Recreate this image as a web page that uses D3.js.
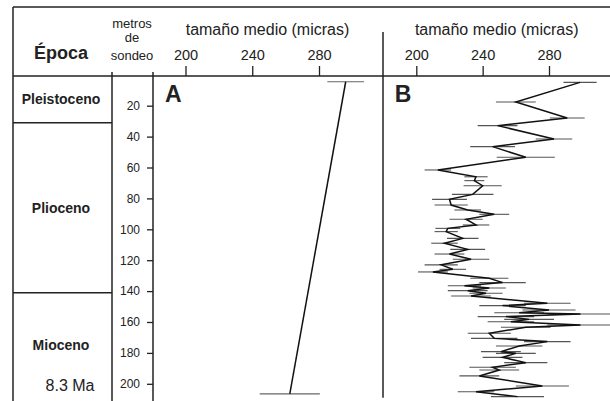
<!DOCTYPE html>
<html>
<head>
<meta charset="utf-8">
<script src="https://cdn.jsdelivr.net/npm/d3@7"></script>
<style>
  body { margin: 0; background: #fff; }
  svg { font-family: "Liberation Sans", Arial, sans-serif; }
</style>
</head>
<body>
<svg id="chart"></svg>
<script>
// epochs: name, top depth, bottom depth (m)
const epochNames = ["Pleistoceno", "Plioceno", "Mioceno"];
const epochTop = [0, 31, 141];
const epochBottom = [31, 141, 209];
const ageLabel = "8.3 Ma";

const depthTicks = [20, 40, 60, 80, 100, 120, 140, 160, 180, 200];
const sizeTicks = [200, 240, 280];

// panel A: two samples
const depthA = [4.5, 206.5];
const sizeA = [296, 262.5];
const errA = [11, 18];

// panel B: detailed record
const depthB = [4.9, 17.6, 28, 32.9, 41.6, 46.5, 53.4, 61.6, 66, 68.5,
  71.8, 77.4, 80.6, 84.3, 87.5, 90.3, 93.5, 97.2, 99.4, 101.5,
  105.9, 109, 113, 116, 119.4, 123, 125.9, 127.6, 131.7, 134.5,
  136.5, 138, 139.7, 141.4, 143.2, 147.9, 149.4, 152.2, 154, 154.8,
  156.5, 158.3, 159.8, 161.9, 163.4, 167.3, 170.6, 172.7, 175.5, 179.2,
  180.3, 182.9, 186.3, 189.3, 191.1, 194.9, 201.4, 205.1, 208.3];
const sizeB = [298.7, 260, 291, 249, 283, 246, 266, 213, 236, 235,
  240, 234, 220, 221, 231, 247, 230, 236, 219, 218,
  228, 217, 231, 220, 233, 215, 222, 210, 244, 252,
  229, 244, 231, 242, 233, 279, 252, 280, 262, 299,
  254, 268, 257, 299, 266, 244, 247, 279, 262, 251,
  260, 252, 266, 246, 250, 238, 276, 236, 261];
const errB = [10, 12, 10.5, 12, 11, 13.5, 17.5, 8, 7, 6,
  11.5, 12.5, 10.5, 10, 8, 9, 10, 8, 7.5, 7,
  9.5, 8, 10.5, 9, 11, 10, 8, 9, 11.5, 14,
  10, 10, 12, 10, 12, 14, 14, 16, 15, 20,
  17, 15, 14, 20, 15, 13, 14, 14, 14, 12,
  12, 12, 13, 14, 12, 12, 16, 11, 16];

const W = 610, H = 401;
const svg = d3.select("#chart").attr("width", W).attr("height", H);

const y = d3.scaleLinear().domain([0, 200]).range([74.8, 383.8]);
const xA = d3.scaleLinear().domain([200, 280]).range([185.5, 319]);
const xB = d3.scaleLinear().domain([200, 280]).range([416.3, 549]);

const ink = "#222";

// frame
svg.append("line").attr("x1", 13).attr("x2", W).attr("y1", 7).attr("y2", 7)
  .attr("stroke", ink).attr("stroke-width", 1.5);
svg.append("line").attr("x1", 13).attr("x2", W).attr("y1", 76).attr("y2", 76)
  .attr("stroke", ink).attr("stroke-width", 1.5);
svg.append("line").attr("x1", 13).attr("x2", 13).attr("y1", 7).attr("y2", H)
  .attr("stroke", ink).attr("stroke-width", 1.5);
svg.append("line").attr("x1", 112).attr("x2", 112).attr("y1", 72).attr("y2", H)
  .attr("stroke", ink).attr("stroke-width", 1.5);
svg.append("line").attr("x1", 383).attr("x2", 383).attr("y1", 32).attr("y2", y(209))
  .attr("stroke", ink).attr("stroke-width", 1.5);

// header
svg.append("text").attr("x", 61).attr("y", 59).attr("text-anchor", "middle")
  .attr("font-size", 18).attr("font-weight", "bold").attr("fill", ink).text("Época");
const hdr = ["metros", "de", "sondeo"];
const hdrY = [28, 42, 60];
hdr.forEach((t, i) => {
  svg.append("text").attr("x", 132).attr("y", hdrY[i]).attr("text-anchor", "middle")
    .attr("font-size", 13).attr("fill", ink).text(t);
});

// epochs
const ep = svg.append("g");
epochNames.forEach((n, i) => {
  if (i > 0) {
    ep.append("line").attr("x1", 13).attr("x2", 112)
      .attr("y1", y(epochTop[i])).attr("y2", y(epochTop[i]))
      .attr("stroke", ink).attr("stroke-width", 1.5);
  }
  ep.append("text").attr("x", 61).attr("y", y((epochTop[i] + epochBottom[i]) / 2))
    .attr("dy", "0.35em").attr("text-anchor", "middle")
    .attr("font-size", 14).attr("font-weight", "bold").attr("fill", ink).text(n);
});
ep.append("text").attr("x", 70).attr("y", y(205) - 1).attr("text-anchor", "middle")
  .attr("font-size", 16).attr("fill", ink).text(ageLabel);

// depth axis
const yAxis = svg.append("g").attr("transform", "translate(153,0)")
  .call(d3.axisLeft(y).tickValues(depthTicks).tickSize(6).tickPadding(7));
yAxis.select(".domain").remove();
yAxis.selectAll("line").attr("stroke", ink).attr("stroke-width", 1.3);
yAxis.selectAll("text").attr("font-size", 12).attr("fill", ink)
  .attr("font-family", "Liberation Sans, Arial, sans-serif");
svg.append("line").attr("x1", 153).attr("x2", 153).attr("y1", 72).attr("y2", H)
  .attr("stroke", ink).attr("stroke-width", 1.5);

// size axes and titles
[[xA, "A"], [xB, "B"]].forEach(([x, lab]) => {
  const ax = svg.append("g").attr("transform", "translate(0,76)")
    .call(d3.axisTop(x).tickValues(sizeTicks).tickSize(10).tickPadding(6));
  ax.select(".domain").remove();
  ax.selectAll("line").attr("stroke", ink).attr("stroke-width", 1.3);
  ax.selectAll("text").attr("font-size", 14.5).attr("fill", ink)
    .attr("font-family", "Liberation Sans, Arial, sans-serif");
  const r = x.range();
  svg.append("text").attr("x", lab === "A" ? 267.5 : 496.7).attr("y", 35)
    .attr("text-anchor", "middle").attr("font-size", 16).attr("fill", ink)
    .text("tamaño medio (micras)");
  svg.append("text").attr("x", r[0] - 20.5 + (lab === "A" ? 0 : -1)).attr("y", 102)
    .attr("font-size", 23).attr("font-weight", "bold").attr("fill", ink).text(lab);
});

function drawSeries(x, depths, sizes, errs, barColor) {
  const pts = depths.map((d, i) => ({ d: d, v: sizes[i], e: errs[i] }));
  const g = svg.append("g");
  g.selectAll("line.err").data(pts).enter().append("line")
    .attr("class", "err")
    .attr("x1", p => x(p.v - p.e)).attr("x2", p => x(p.v + p.e))
    .attr("y1", p => y(p.d)).attr("y2", p => y(p.d))
    .attr("stroke", barColor).attr("stroke-width", 1.1);
  g.append("path").datum(pts)
    .attr("fill", "none").attr("stroke", "#111").attr("stroke-width", 1.5)
    .attr("d", d3.line().x(p => x(p.v)).y(p => y(p.d)));
}

drawSeries(xA, depthA, sizeA, errA, "#666");
drawSeries(xB, depthB, sizeB, errB, "#555");
</script>
</body>
</html>
